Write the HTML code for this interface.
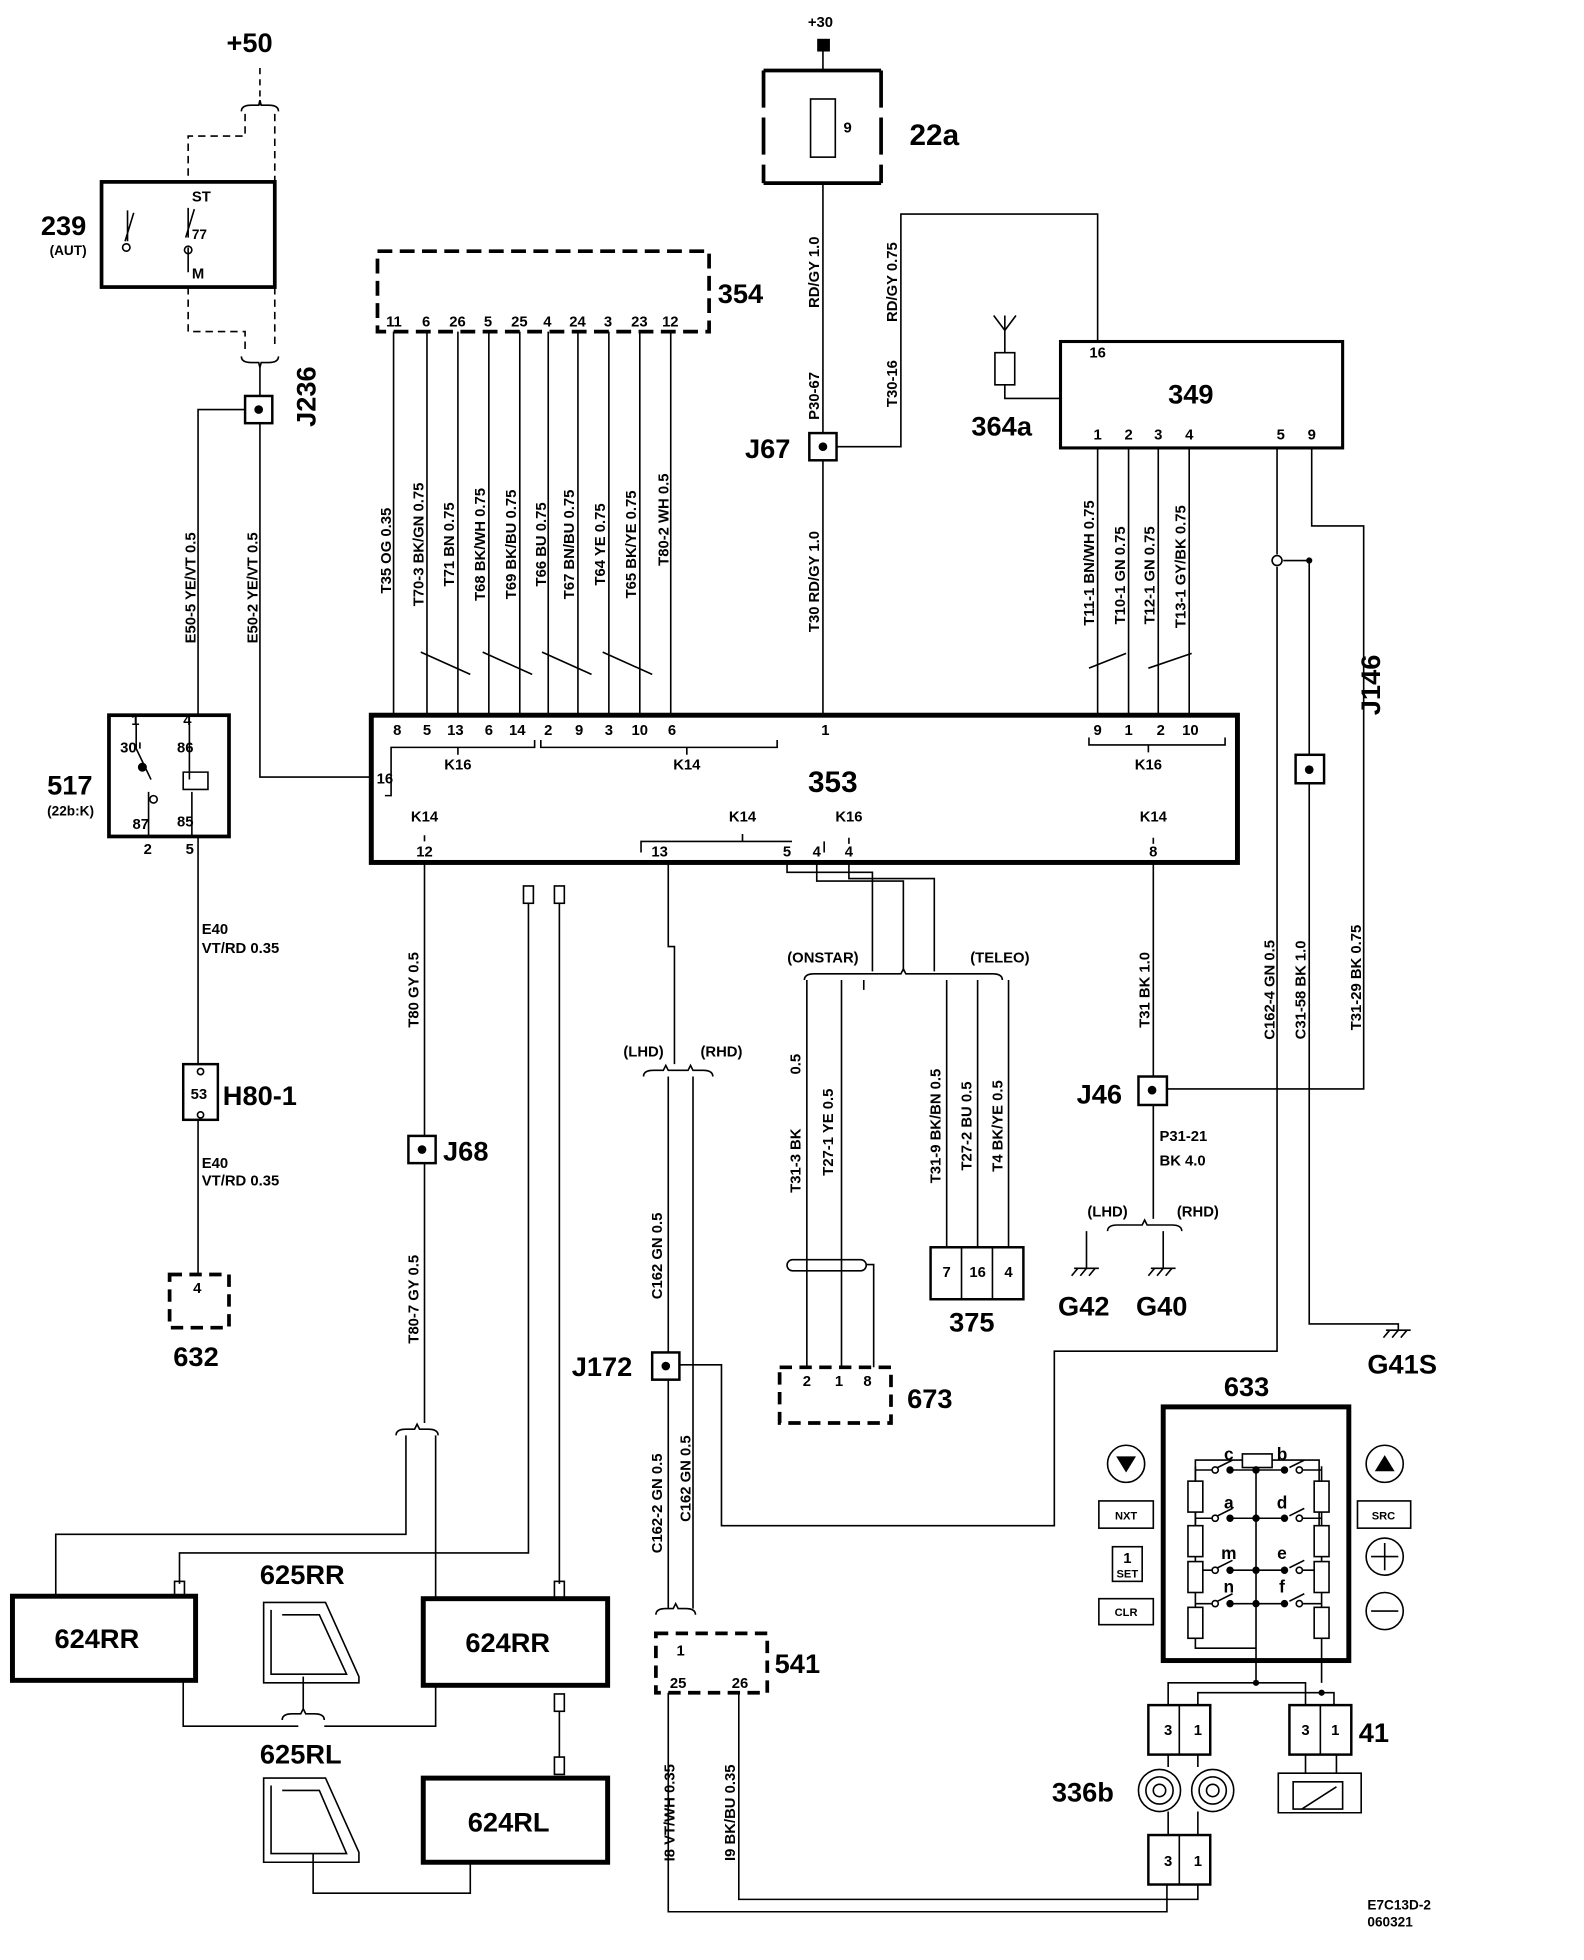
<!DOCTYPE html>
<html><head><meta charset="utf-8"><style>
html,body{margin:0;padding:0;background:#fff}
svg{display:block}
text{font-family:"Liberation Sans",Arial,sans-serif;font-weight:bold;fill:#000}
.s{font-size:12px}.m{font-size:14px}.b{font-size:22px}.t{font-size:11px}
</style></head><body>
<svg width="1584" height="1960" viewBox="0 0 1280 1584" xmlns="http://www.w3.org/2000/svg">
<g fill="none" stroke="#000" stroke-width="1.3">
<!-- +50 / 239 -->
<path d="M210 55V85" stroke-dasharray="5,4"/>
<path d="M195 90q0-5 8-5h6l1-4 1 4h6q8 0 8 5"/>
<path d="M198 92V110H152V147" stroke-dasharray="6,4"/>
<path d="M222 92V282" stroke-dasharray="6,4"/>
<path d="M152 232V268H198V282" stroke-dasharray="6,4"/>
<path d="M195 288q0 5 8 5h6l1 4 1-4h6q8 0 8-5"/>
<rect x="82" y="147" width="140" height="85" stroke-width="3"/>
<path d="M103 170V195M101 195l7-23M152 168V192M150 192l7-23M152 200V220"/>
<circle cx="102" cy="200" r="3"/><circle cx="152" cy="202" r="3"/>
<path d="M210 297V320"/>
<rect x="198" y="320" width="22" height="22" stroke-width="2"/>
<path d="M198 331H160V578M210 342V628H300"/>
<!-- 517 -->
<rect x="88" y="578" width="97" height="98" stroke-width="3"/>
<path d="M110 585V605l12 25M113 600V605M153 585V630M148 624h20v14h-20zM120 640V676M155 676V640M153 640"/>
<circle cx="115" cy="620" r="3" fill="#000"/><circle cx="124" cy="646" r="3"/>
<path d="M160 676V860"/>
<rect x="148" y="860" width="28" height="45" stroke-width="2"/>
<circle cx="162" cy="866" r="2.5"/><circle cx="162" cy="901" r="2.5"/>
<path d="M160 905V1030"/>
<rect x="137" y="1030" width="48" height="43" stroke-width="3" stroke-dasharray="10,6"/>
<!-- 354 -->
<rect x="305" y="203" width="268" height="65" stroke-width="3" stroke-dasharray="12,6"/>
<path d="M318 268V578M345 268V578M370 268V578M395 268V578M420 268V578M443 268V578M467 268V578M492 268V578M517 268V578M542 268V578"/>
<path d="M340 527l40 18M390 527l40 18M438 527l40 18M487 527l40 18"/>
<!-- 353 -->
<rect x="300" y="578" width="700" height="119" stroke-width="4"/>
<path d="M311 643H316V604H432V598M370 604V610M437 598V604H628V598M555 604V610M880 596V602H990V596M928 602V608"/>
<path d="M343 675V680M518 689V680H640M600 680V674M666 689V680M686 677V682M932 677V682"/>
<!-- 22a -->
<path d="M617 57H712M617 148H712" stroke-width="3"/>
<path d="M617 57V148M712 57V148" stroke-width="3" stroke-dasharray="30,8"/>
<rect x="655" y="80" width="20" height="47"/>
<rect x="661" y="32" width="9" height="9" fill="#000"/>
<path d="M665 41V57M665 148V350M665 372V578"/>
<rect x="654" y="350" width="22" height="22" stroke-width="2"/>
<path d="M676 361H728V173H887V276"/>
<!-- 349 -->
<rect x="857" y="276" width="228" height="86" stroke-width="2.5"/>
<path d="M812 255V285M803 255l9 12 9-12M812 283M804 285h16v26h-16zM812 311v11h45"/>
<path d="M887 362V578M912 362V578M936 362V578M961 362V578"/>
<path d="M880 540l30-12M928 540l35-12"/>
<path d="M1032 362V448M1032 458V1092H852V1233H583V1103H549"/>
<circle cx="1032" cy="453" r="4"/>
<path d="M1060 362V425H1102V880H943"/>
<path d="M1058 453H1037M1058 453V610M1058 633V1070H1130V1075"/>
<rect x="1047" y="610" width="23" height="23" stroke-width="2"/>
<!-- bottom pins -->
<path d="M343 697V918M343 940V1150"/>
<rect x="330" y="918" width="22" height="22" stroke-width="2"/>
<path d="M320 1160q0-5 8-5h7l2-4 2 4h7q8 0 8 5"/>
<path d="M328 1160V1240H45V1290M352 1160V1292"/>
<path d="M427 730V1255H145V1280M452 730V1280"/>
<rect x="423" y="716" width="8" height="14"/><rect x="448" y="716" width="8" height="14"/>
<rect x="141" y="1278" width="8" height="12"/><rect x="448" y="1278" width="8" height="14"/>
<rect x="10" y="1290" width="148" height="68" stroke-width="4"/>
<rect x="342" y="1292" width="149" height="70" stroke-width="4"/>
<rect x="342" y="1437" width="149" height="68" stroke-width="4"/>
<rect x="448" y="1369" width="8" height="14"/><rect x="448" y="1420" width="8" height="14"/>
<path d="M452 1383V1420M148 1358V1395H241M262 1395H352V1362"/>
<path d="M228 1390q0-5 8-5h7l2-4 2 4h7q8 0 8 5M245 1382V1355"/>
<path d="M213 1295H263l27 60v5H213z M219 1301V1353H280L258 1305H228"/>
<path d="M213 1437H263l27 60v8H213z M219 1443V1498H280L258 1447H228"/>
<path d="M253 1498V1530H380V1505"/>
<!-- 13 -->
<path d="M540 697V765H545V860"/>
<path d="M520 870q0-5 8-5h8l2-4 2 4h16l2-4 2 4h8q8 0 8 5"/>
<path d="M540 870V1093M540 1115V1300M560 870V1300"/>
<rect x="527" y="1093" width="22" height="22" stroke-width="2"/>
<path d="M530 1305q0-5 8-5h6l2-4 2 4h6q8 0 8 5"/>
<rect x="530" y="1320" width="90" height="48" stroke-width="3" stroke-dasharray="10,6"/>
<path d="M540 1368V1545H943V1523M597 1368V1535H968V1523"/>
<!-- onstar/teleo -->
<path d="M636 697V705H705V785M660 697V712H730V785M686 697V710H755V785"/>
<path d="M650 792q0-5 8-5h70l2-4 2 4h70q8 0 8 5"/>
<path d="M652 792V1105M680 792V1105M698 792V800M765 792V1008M790 792V1008M815 792V1008"/>
<rect x="636" y="1018" width="64" height="9" rx="4.5"/>
<path d="M700 1022H706V1105"/>
<rect x="630" y="1105" width="90" height="45" stroke-width="3" stroke-dasharray="10,6"/>
<rect x="752" y="1008" width="75" height="42" stroke-width="2"/>
<path d="M777 1008V1050M802 1008V1050"/>
<!-- J46 -->
<path d="M932 697V870"/>
<rect x="920" y="870" width="23" height="23" stroke-width="2"/>
<path d="M932 893V985M895 995q0-5 8-5h20l2-4 2 4h20q8 0 8 5M878 995V1025M940 995V1025"/>
<path d="M868 1025h20M871 1025l-5 6M878 1025l-5 6M885 1025l-5 6"/>
<path d="M930 1025h20M933 1025l-5 6M940 1025l-5 6M947 1025l-5 6"/>
<path d="M1120 1075h20M1123 1075l-5 6M1130 1075l-5 6M1137 1075l-5 6"/>
<!-- 633 -->
<rect x="940" y="1137" width="150" height="205" stroke-width="4"/>
<path d="M966 1252V1180H1004M1028 1180H1066V1252"/><rect x="1004" y="1175" width="24" height="11"/>
<path d="M966 1185V1332H1015V1360M1015 1185V1332"/>
<path d="M1068 1185V1360"/>
<g>
<path d="M966 1188H979M992 1188H1038M1053 1188H1068M984 1186l12-6M1042 1186l12-6"/>
<path d="M966 1227H979M992 1227H1038M1053 1227H1068M984 1225l12-6M1042 1225l12-6"/>
<path d="M966 1269H979M992 1269H1038M1053 1269H1068M984 1267l12-6M1042 1267l12-6"/>
<path d="M966 1296H979M992 1296H1038M1053 1296H1068M984 1294l12-6M1042 1294l12-6"/>
</g>
<g fill="#fff">
<circle cx="982" cy="1188" r="2.5"/><circle cx="1050" cy="1188" r="2.5"/>
<circle cx="982" cy="1227" r="2.5"/><circle cx="1050" cy="1227" r="2.5"/>
<circle cx="982" cy="1269" r="2.5"/><circle cx="1050" cy="1269" r="2.5"/>
<circle cx="982" cy="1296" r="2.5"/><circle cx="1050" cy="1296" r="2.5"/>
<rect x="960" y="1197" width="12" height="25"/><rect x="960" y="1233" width="12" height="25"/><rect x="960" y="1262" width="12" height="25"/><rect x="960" y="1299" width="12" height="25"/>
<rect x="1062" y="1197" width="12" height="25"/><rect x="1062" y="1233" width="12" height="25"/><rect x="1062" y="1262" width="12" height="25"/><rect x="1062" y="1299" width="12" height="25"/>
</g>
<circle cx="910" cy="1183" r="15"/><circle cx="1119" cy="1183" r="15"/>
<circle cx="1119" cy="1258" r="15"/><circle cx="1119" cy="1302" r="15"/>
<path d="M1108 1258h22M1119 1247v22M1108 1302h22"/>
<rect x="888" y="1213" width="44" height="22"/><rect x="899" y="1250" width="24" height="28"/>
<rect x="888" y="1292" width="44" height="21"/><rect x="1097" y="1213" width="43" height="22"/>
<!-- 336b / 41 -->
<path d="M1015 1360H944V1378M1015 1360H1055V1378M1068 1368H968V1378M1068 1368H1078V1378"/>
<rect x="928" y="1378" width="50" height="40" stroke-width="2"/><path d="M953 1378V1418"/>
<rect x="1042" y="1378" width="50" height="40" stroke-width="2"/><path d="M1067 1378V1418"/>
<path d="M944 1418V1428M968 1418V1428M1055 1418V1433M1080 1418V1433"/>
<circle cx="937" cy="1447" r="17"/><circle cx="937" cy="1447" r="11"/><circle cx="937" cy="1447" r="5"/>
<circle cx="980" cy="1447" r="17"/><circle cx="980" cy="1447" r="11"/><circle cx="980" cy="1447" r="5"/>
<path d="M944 1464V1483M968 1464V1483"/>
<rect x="928" y="1483" width="50" height="40" stroke-width="2"/><path d="M953 1483V1523"/>
<path d="M1033 1433H1100V1465H1033Z M1045 1440h40v22h-40z M1052 1462l28-18"/>
</g>
<g fill="#000">
<circle cx="209" cy="331" r="3.5"/><circle cx="665" cy="361" r="3.5"/><circle cx="1058" cy="622" r="3.5"/>
<circle cx="341" cy="929" r="3.5"/><circle cx="538" cy="1104" r="3.5"/><circle cx="931" cy="881" r="3.5"/>
<circle cx="1058" cy="453" r="2.5"/><circle cx="1015" cy="1360" r="2.5"/><circle cx="1068" cy="1368" r="2.5"/>
<circle cx="994" cy="1188" r="3"/><circle cx="1015" cy="1188" r="3"/><circle cx="1038" cy="1188" r="3"/>
<circle cx="994" cy="1227" r="3"/><circle cx="1015" cy="1227" r="3"/><circle cx="1038" cy="1227" r="3"/>
<circle cx="994" cy="1269" r="3"/><circle cx="1015" cy="1269" r="3"/><circle cx="1038" cy="1269" r="3"/>
<circle cx="994" cy="1296" r="3"/><circle cx="1015" cy="1296" r="3"/><circle cx="1038" cy="1296" r="3"/>
<path d="M902 1177h16l-8 13z M1111 1189h16l-8-13z"/>
</g>
<!-- texts -->
<text x="183" y="42" class="b">+50</text>
<text x="33" y="190" class="b">239</text><text x="40" y="206" class="t">(AUT)</text>
<text x="155" y="163" class="s">ST</text><text x="155" y="193" class="t">77</text><text x="155" y="225" class="s">M</text>
<text transform="translate(255,345) rotate(-90)" class="b">J236</text>
<text transform="translate(158,520) rotate(-90)" class="s">E50-5  YE/VT  0.5</text>
<text transform="translate(208,520) rotate(-90)" class="s">E50-2  YE/VT  0.5</text>
<text x="38" y="642" class="b">517</text><text x="38" y="659" class="t">(22b:K)</text>
<text x="106" y="586" class="s">1</text><text x="148" y="586" class="s">4</text>
<text x="97" y="608" class="s">30</text><text x="143" y="608" class="s">86</text>
<text x="107" y="670" class="s">87</text><text x="143" y="668" class="s">85</text>
<text x="116" y="690" class="s">2</text><text x="150" y="690" class="s">5</text>
<text x="163" y="755" class="s">E40</text><text x="163" y="770" class="s">VT/RD 0.35</text>
<text x="154" y="888" class="s">53</text><text x="180" y="893" class="b">H80-1</text>
<text x="163" y="944" class="s">E40</text><text x="163" y="958" class="s">VT/RD 0.35</text>
<text x="156" y="1045" class="s">4</text><text x="140" y="1104" class="b">632</text>
<text x="580" y="245" class="b">354</text>
<g class="s">
<text x="312" y="264">11</text><text x="341" y="264">6</text><text x="363" y="264">26</text><text x="391" y="264">5</text><text x="413" y="264">25</text><text x="439" y="264">4</text><text x="460" y="264">24</text><text x="488" y="264">3</text><text x="510" y="264">23</text><text x="535" y="264">12</text>
</g>
<g class="s" text-anchor="middle">
<text transform="translate(316,445) rotate(-90)">T35  OG  0.35</text>
<text transform="translate(342,440) rotate(-90)">T70-3  BK/GN  0.75</text>
<text transform="translate(367,440) rotate(-90)">T71  BN  0.75</text>
<text transform="translate(392,440) rotate(-90)">T68  BK/WH  0.75</text>
<text transform="translate(417,440) rotate(-90)">T69  BK/BU  0.75</text>
<text transform="translate(441,440) rotate(-90)">T66  BU  0.75</text>
<text transform="translate(464,440) rotate(-90)">T67  BN/BU  0.75</text>
<text transform="translate(489,440) rotate(-90)">T64  YE  0.75</text>
<text transform="translate(514,440) rotate(-90)">T65  BK/YE  0.75</text>
<text transform="translate(540,420) rotate(-90)">T80-2  WH  0.5</text>
<text transform="translate(662,220) rotate(-90)">RD/GY  1.0</text>
<text transform="translate(662,320) rotate(-90)">P30-67</text>
<text transform="translate(662,470) rotate(-90)">T30  RD/GY  1.0</text>
<text transform="translate(725,228) rotate(-90)">RD/GY  0.75</text>
<text transform="translate(725,310) rotate(-90)">T30-16</text>
<text transform="translate(884,455) rotate(-90)">T11-1  BN/WH  0.75</text>
<text transform="translate(909,465) rotate(-90)">T10-1  GN  0.75</text>
<text transform="translate(933,465) rotate(-90)">T12-1  GN  0.75</text>
<text transform="translate(958,458) rotate(-90)">T13-1  GY/BK  0.75</text>
<text transform="translate(1030,800) rotate(-90)">C162-4  GN  0.5</text>
<text transform="translate(1055,800) rotate(-90)">C31-58  BK  1.0</text>
<text transform="translate(1100,790) rotate(-90)">T31-29  BK  0.75</text>
<text transform="translate(929,800) rotate(-90)">T31  BK  1.0</text>
<text transform="translate(338,800) rotate(-90)">T80  GY  0.5</text>
<text transform="translate(338,1050) rotate(-90)">T80-7  GY  0.5</text>
<text transform="translate(535,1015) rotate(-90)">C162  GN  0.5</text>
<text transform="translate(535,1215) rotate(-90)">C162-2  GN  0.5</text>
<text transform="translate(558,1195) rotate(-90)">C162  GN  0.5</text>
<text transform="translate(647,860) rotate(-90)">0.5</text>
<text transform="translate(647,938) rotate(-90)">T31-3  BK</text>
<text transform="translate(673,915) rotate(-90)">T27-1  YE  0.5</text>
<text transform="translate(760,910) rotate(-90)">T31-9  BK/BN  0.5</text>
<text transform="translate(785,910) rotate(-90)">T27-2  BU  0.5</text>
<text transform="translate(810,910) rotate(-90)">T4  BK/YE  0.5</text>
<text transform="translate(545,1465) rotate(-90)">I8  VT/WH  0.35</text>
<text transform="translate(594,1465) rotate(-90)">I9  BK/BU  0.35</text>
</g>
<g class="s" text-anchor="middle">
<text x="321" y="594">8</text><text x="345" y="594">5</text><text x="368" y="594">13</text><text x="395" y="594">6</text><text x="418" y="594">14</text><text x="443" y="594">2</text><text x="468" y="594">9</text><text x="492" y="594">3</text><text x="517" y="594">10</text><text x="543" y="594">6</text><text x="667" y="594">1</text>
<text x="887" y="594">9</text><text x="912" y="594">1</text><text x="938" y="594">2</text><text x="962" y="594">10</text>
<text x="370" y="622">K16</text><text x="555" y="622">K14</text><text x="928" y="622">K16</text>
<text x="311" y="633">16</text>
<text x="343" y="664">K14</text><text x="343" y="692">12</text>
<text x="600" y="664">K14</text><text x="686" y="664">K16</text>
<text x="533" y="692">13</text><text x="636" y="692">5</text><text x="660" y="692">4</text><text x="686" y="692">4</text>
<text x="932" y="664">K14</text><text x="932" y="692">8</text>
<text x="887" y="289">16</text>
<text x="887" y="355">1</text><text x="912" y="355">2</text><text x="936" y="355">3</text><text x="961" y="355">4</text><text x="1035" y="355">5</text><text x="1060" y="355">9</text>
<text x="663" y="22">+30</text><text x="685" y="107">9</text>
<text x="665" y="778">(ONSTAR)</text><text x="808" y="778">(TELEO)</text>
<text x="520" y="854">(LHD)</text><text x="583" y="854">(RHD)</text>
<text x="895" y="983">(LHD)</text><text x="968" y="983">(RHD)</text>
<text x="652" y="1120">2</text><text x="678" y="1120">1</text><text x="701" y="1120">8</text>
<text x="765" y="1032">7</text><text x="790" y="1032">16</text><text x="815" y="1032">4</text>
<text x="550" y="1338">1</text><text x="548" y="1364">25</text><text x="598" y="1364">26</text>
<text x="944" y="1402">3</text><text x="968" y="1402">1</text><text x="1055" y="1402">3</text><text x="1079" y="1402">1</text>
<text x="944" y="1508">3</text><text x="968" y="1508">1</text>
</g>
<text x="673" y="640" font-size="24" text-anchor="middle">353</text>
<text x="944" y="326" class="b">349</text>
<text x="735" y="117" font-size="24">22a</text>
<text x="785" y="352" class="b">364a</text>
<text x="602" y="370" class="b">J67</text>
<text x="1107" y="600" transform="rotate(-90 1100 585)" class="b">J146</text>
<text x="870" y="892" class="b">J46</text>
<text x="937" y="922" class="s">P31-21</text><text x="937" y="942" class="s">BK 4.0</text>
<text x="855" y="1063" class="b">G42</text><text x="918" y="1063" class="b">G40</text>
<text x="1105" y="1110" class="b">G41S</text>
<text x="358" y="938" class="b">J68</text>
<text x="462" y="1112" class="b">J172</text>
<text x="626" y="1352" class="b">541</text>
<text x="733" y="1138" class="b">673</text>
<text x="767" y="1076" class="b">375</text>
<text x="989" y="1128" class="b">633</text>
<text x="1098" y="1408" class="b">41</text>
<text x="850" y="1456" class="b">336b</text>
<text x="44" y="1332" class="b">624RR</text><text x="376" y="1335" class="b">624RR</text><text x="378" y="1480" class="b">624RL</text>
<text x="210" y="1280" class="b">625RR</text><text x="210" y="1425" class="b">625RL</text>
<g class="m" text-anchor="middle">
<text x="993" y="1180">c</text><text x="1036" y="1180">b</text><text x="993" y="1219">a</text><text x="1036" y="1219">d</text>
<text x="993" y="1260">m</text><text x="1036" y="1260">e</text><text x="993" y="1287">n</text><text x="1036" y="1287">f</text>
</g>
<g font-size="9" text-anchor="middle">
<text x="910" y="1228">NXT</text><text x="911" y="1263" font-size="12">1</text><text x="911" y="1275">SET</text><text x="910" y="1306">CLR</text><text x="1118" y="1228">SRC</text>
</g>
<text x="1105" y="1543" class="t">E7C13D-2</text><text x="1105" y="1557" class="t">060321</text>
</svg>
</body></html>
